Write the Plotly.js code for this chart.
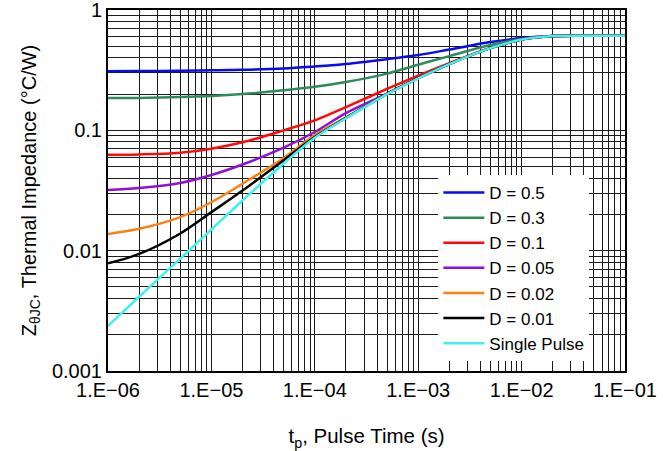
<!DOCTYPE html>
<html>
<head>
<meta charset="utf-8">
<script src="https://cdn.plot.ly/plotly-3.0.1.min.js"></script>
<style>html,body{margin:0;padding:0;background:#fff;}#chart{width:663px;height:451px;}</style>
</head>
<body>
<div id="chart"></div>
<script>
// Pulse time (s)
const pulseTime = [1e-6, 2e-6, 5e-6, 1e-5, 2e-5, 5e-5, 1e-4, 2e-4, 5e-4, 1e-3, 2e-3, 5e-3, 1e-2, 2e-2, 5e-2, 1e-1];
// Thermal impedance (°C/W) per duty cycle
const zD05   = [0.310, 0.311, 0.313, 0.315, 0.318, 0.327, 0.340, 0.356, 0.390, 0.422, 0.469, 0.541, 0.584, 0.607, 0.611, 0.611];
const zD03   = [0.186, 0.186, 0.189, 0.193, 0.200, 0.215, 0.230, 0.252, 0.296, 0.351, 0.414, 0.511, 0.573, 0.607, 0.611, 0.611];
const zD01   = [0.0627, 0.0631, 0.0652, 0.0704, 0.0795, 0.100, 0.121, 0.156, 0.221, 0.285, 0.362, 0.485, 0.569, 0.607, 0.611, 0.611];
const zD005  = [0.0320, 0.0332, 0.0365, 0.0425, 0.0520, 0.0717, 0.0968, 0.139, 0.202, 0.273, 0.357, 0.482, 0.568, 0.607, 0.611, 0.611];
const zD002  = [0.01377, 0.0152, 0.0190, 0.0253, 0.0360, 0.0590, 0.0915, 0.128, 0.201, 0.271, 0.356, 0.482, 0.568, 0.607, 0.611, 0.611];
const zD001  = [0.00784, 0.00939, 0.0139, 0.0209, 0.0316, 0.0565, 0.0880, 0.127, 0.201, 0.271, 0.356, 0.482, 0.568, 0.607, 0.611, 0.611];
const zSingle= [0.00237, 0.00414, 0.0086, 0.0150, 0.0261, 0.0530, 0.0867, 0.126, 0.200, 0.270, 0.355, 0.482, 0.568, 0.607, 0.611, 0.611];

const seriesNames = ['D = 0.5', 'D = 0.3', 'D = 0.1', 'D = 0.05', 'D = 0.02', 'D = 0.01', 'Single Pulse'];
const seriesValues = [zD05, zD03, zD01, zD005, zD002, zD001, zSingle];
const seriesColors = ['#0a0af0', '#2e8b57', '#ff0a0a', '#9010d8', '#ff8010', '#000000', '#40f0f0'];

const xDecades = [1e-6, 1e-5, 1e-4, 1e-3, 1e-2, 1e-1];
const xTickText = ['1.E\u221206', '1.E\u221205', '1.E\u221204', '1.E\u221203', '1.E\u221202', '1.E\u221201'];
const yDecades = [0.001, 0.01, 0.1, 1];
const yTickText = ['0.001', '0.01', '0.1', '1'];

function allLogTicks(decades, labels) {
  const vals = [], text = [];
  for (let i = 0; i < decades.length; i++) {
    vals.push(decades[i]); text.push(labels[i]);
    if (i < decades.length - 1) {
      for (let m = 2; m <= 9; m++) { vals.push(decades[i] * m); text.push(''); }
    }
  }
  return {vals, text};
}
const xt = allLogTicks(xDecades, xTickText);
const yt = allLogTicks(yDecades, yTickText);

const traces = seriesNames.map((n, i) => ({
  x: pulseTime, y: seriesValues[i], name: n, type: 'scatter', mode: 'lines',
  line: {color: seriesColors[i], width: 2.5, shape: 'spline', smoothing: 1}
}));

const layout = {
  width: 663, height: 451,
  margin: {l: 108, r: 38, t: 10, b: 80},
  paper_bgcolor: '#fff', plot_bgcolor: '#fff',
  font: {family: 'Liberation Sans, Arial, sans-serif', size: 20, color: '#000'},
  showlegend: true,
  legend: {x: 0.639, y: 0.543, xanchor: 'left', yanchor: 'top', bgcolor: '#fff', borderwidth: 0,
           font: {size: 17, color: '#000'}, traceorder: 'normal', itemwidth: 41},
  xaxis: {type: 'log', range: [-6, -1], tickvals: xt.vals, ticktext: xt.text, ticks: '',
          showgrid: true, gridcolor: '#1a1a1a', gridwidth: 1, zeroline: false,
          showline: true, mirror: true, linecolor: '#000', linewidth: 2,
          tickfont: {size: 20}, ticklabeloverflow: 'allow',
          title: {text: 't<sub>p</sub>, Pulse Time (s)', font: {size: 20.5}, standoff: 29}},
  yaxis: {type: 'log', range: [-3, 0], tickvals: yt.vals, ticktext: yt.text, ticks: '',
          showgrid: true, gridcolor: '#1a1a1a', gridwidth: 1, zeroline: false,
          showline: true, mirror: true, linecolor: '#000', linewidth: 2,
          tickfont: {size: 20}, ticklabeloverflow: 'allow',
          title: {text: 'Z<sub>\u03b8JC</sub>, Thermal Impedance (\u00b0C/W)', font: {size: 20}, standoff: 10}}
};

Plotly.newPlot('chart', traces, layout, {displayModeBar: false, staticPlot: true});
</script>
</body>
</html>
